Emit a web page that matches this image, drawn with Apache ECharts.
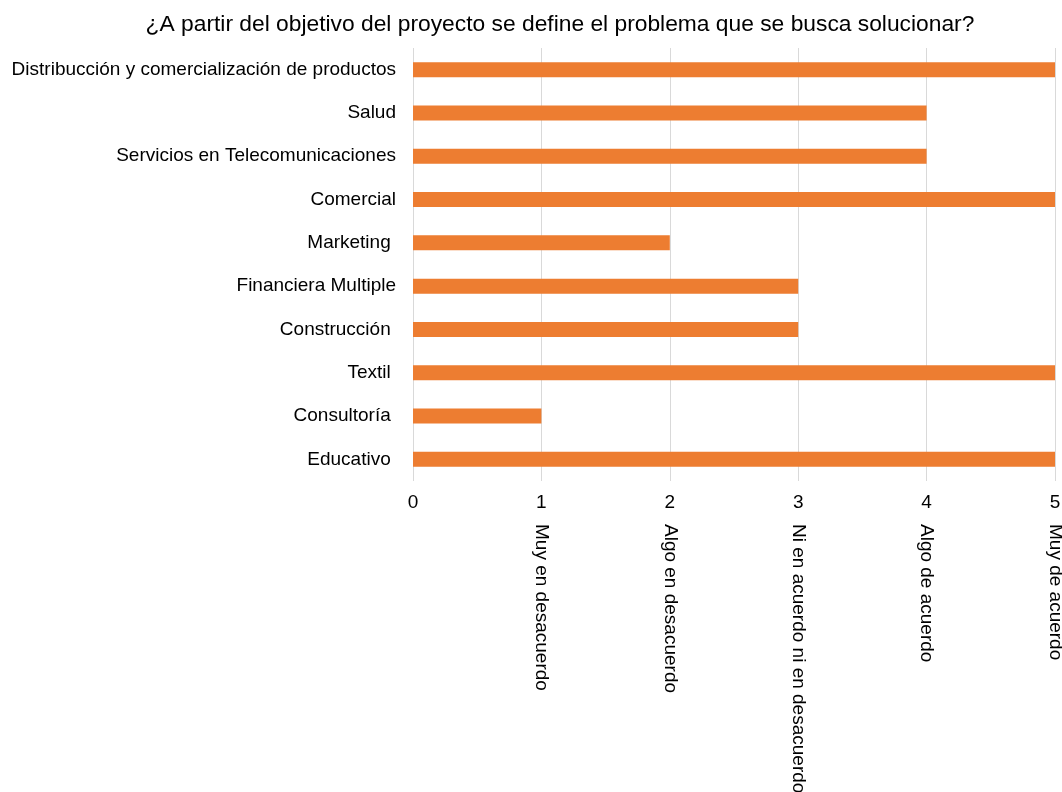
<!DOCTYPE html>
<html>
<head>
<meta charset="utf-8">
<style>
  html, body { margin: 0; padding: 0; background: #fff; }
  #chart { width: 1062px; height: 792px; }
</style>
<script src="https://cdn.jsdelivr.net/npm/echarts@6/dist/echarts.min.js"></script>
</head>
<body>
<div id="chart"></div>
<script>
// Sectors, listed top to bottom
const categories = [
  'Distribucción y comercialización de productos',
  'Salud',
  'Servicios en Telecomunicaciones',
  'Comercial',
  'Marketing ',
  'Financiera Multiple',
  'Construcción ',
  'Textil ',
  'Consultoría ',
  'Educativo '
];

// Agreement score per sector (0–5 scale)
const scores = [5, 4, 4, 5, 2, 3, 3, 5, 1, 5];

// Numeric ticks and their scale meanings
const tickValues = [0, 1, 2, 3, 4, 5];
const scaleLabels = [
  '',
  'Muy en desacuerdo',
  'Algo en desacuerdo',
  'Ni en acuerdo ni en desacuerdo',
  'Algo de acuerdo',
  'Muy de acuerdo'
];

const FONT = '"Liberation Sans", Arial, Helvetica, sans-serif';

const chart = echarts.init(document.getElementById('chart'), null, { renderer: 'canvas' });

const baseValueAxis = {
  type: 'value',
  min: tickValues[0],
  max: tickValues[tickValues.length - 1],
  interval: 1,
  position: 'bottom',
  axisLine: { show: false },
  axisTick: { show: false }
};

chart.setOption({
  backgroundColor: '#ffffff',
  animation: false,
  title: {
    text: '¿A partir del objetivo del proyecto se define el problema que se busca solucionar?',
    left: 555,
    top: 8,
    textAlign: 'center',
    textStyle: { fontFamily: FONT, fontSize: 22.8, fontWeight: 'normal', color: '#000' }
  },
  grid: {
    left: 413, right: 7, top: 48, bottom: 311,
    containLabel: false,
    outerBoundsMode: 'none'
  },
  xAxis: [
    Object.assign({}, baseValueAxis, {
      splitLine: { show: true, lineStyle: { color: '#d9d9d9', width: 1 } },
      axisLabel: { margin: 12, fontFamily: FONT, fontSize: 19, color: '#000' }
    }),
    Object.assign({}, baseValueAxis, {
      splitLine: { show: false },
      axisLabel: {
        margin: 43,
        rotate: -90,
        fontFamily: FONT,
        fontSize: 19,
        color: '#000',
        formatter: function (v) { return scaleLabels[tickValues.indexOf(v)] || ''; }
      }
    })
  ],
  yAxis: {
    type: 'category',
    data: categories,
    inverse: true,
    axisLine: { show: false },
    axisTick: { show: false },
    axisLabel: { margin: 17, fontFamily: FONT, fontSize: 19, color: '#000' }
  },
  series: [{
    type: 'bar',
    data: scores,
    xAxisIndex: 0,
    barWidth: 15,
    itemStyle: { color: '#ed7d31' }
  }]
});
</script>
</body>
</html>
